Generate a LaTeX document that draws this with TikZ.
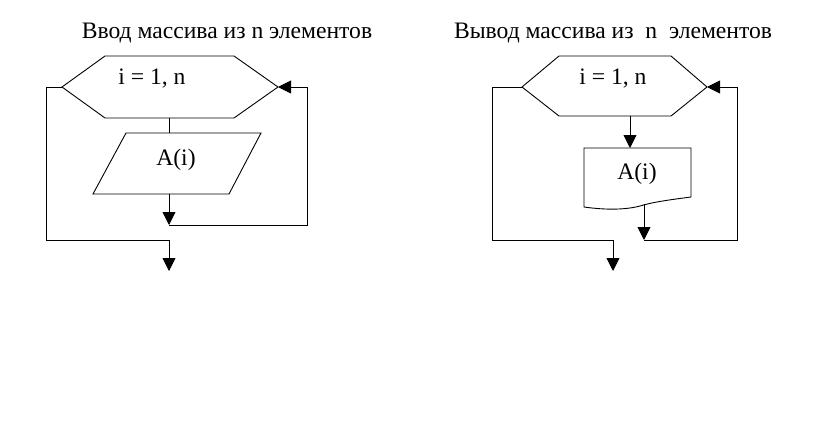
\documentclass[tikz,border=0pt]{standalone}
\usepackage{fontspec}
\setmainfont{Liberation Serif}
\usetikzlibrary{arrows.meta}
\begin{document}
\begin{tikzpicture}[x=1pt,y=-1pt,
  line/.style={draw=black,line width=0.9pt},
  arr/.style={line,-{Triangle[length=13pt,width=13pt]}},
  title/.style={font=\fontsize{23.6}{26}\selectfont,anchor=base},
  lbl/.style={font=\fontsize{23.6}{26}\selectfont,anchor=base}]
\useasboundingbox[fill=white] (0,0) rectangle (821,425);
% ---------- left diagram ----------
\node[title] (t1) at (227,39) {Ввод массива из n элементов};
\coordinate (h1l) at (62,87);
\coordinate (h1r) at (278,87);
\coordinate (h1b) at (169,118);
\draw[line] (h1l) -- (105,56) -- (234,56) -- (h1r) -- (234,118) -- (105,118) -- cycle;
\node[lbl] (c1) at (152,85) {i = 1, n};
\coordinate (p1t) at (169,133);
\coordinate (p1b) at (169,194);
\draw[line] (126,133) -- (261,133) -- (229,194) -- (93,194) -- cycle;
\node[lbl] (a1) at (176,165) {A(i)};
\draw[line] (h1b) -- (p1t);
\coordinate (j1) at (169,225);
\draw[arr] (p1b) -- (j1);
\coordinate (r1a) at (307,225);
\coordinate (r1b) at (307,87);
\draw[arr] (j1) -- (r1a) -- (r1b) -- (h1r);
\coordinate (l1a) at (46,87);
\coordinate (l1b) at (46,240);
\coordinate (l1c) at (169,240);
\coordinate (e1) at (169,271);
\draw[arr] (h1l) -- (l1a) -- (l1b) -- (l1c) -- (e1);
% ---------- right diagram ----------
\node[title] (t2) at (613,39) {Вывод массива из \ n \ элементов};
\coordinate (h2l) at (522,87);
\coordinate (h2r) at (707,87);
\coordinate (h2b) at (630,116);
\draw[line] (h2l) -- (559,56) -- (671,56) -- (h2r) -- (671,116) -- (559,116) -- cycle;
\node[lbl] (c2) at (613,85) {i = 1, n};
\coordinate (d2t) at (630,148);
\draw[arr] (h2b) -- (d2t);
\draw[line] (584,148) -- (691,148) -- (691,197)
  .. controls (660,201) and (650,203) .. (640,206)
  .. controls (625,210) and (605,210) .. (584,207) -- cycle;
\node[lbl] (a2) at (637,179) {A(i)};
\coordinate (d2b) at (644,204);
\coordinate (j2) at (644,240);
\draw[arr] (d2b) -- (j2);
\coordinate (r2a) at (737,240);
\coordinate (r2b) at (737,87);
\draw[arr] (j2) -- (r2a) -- (r2b) -- (h2r);
\coordinate (l2a) at (492,87);
\coordinate (l2b) at (492,240);
\coordinate (l2c) at (613,240);
\coordinate (e2) at (613,271);
\draw[arr] (h2l) -- (l2a) -- (l2b) -- (l2c) -- (e2);
\end{tikzpicture}
\end{document}
